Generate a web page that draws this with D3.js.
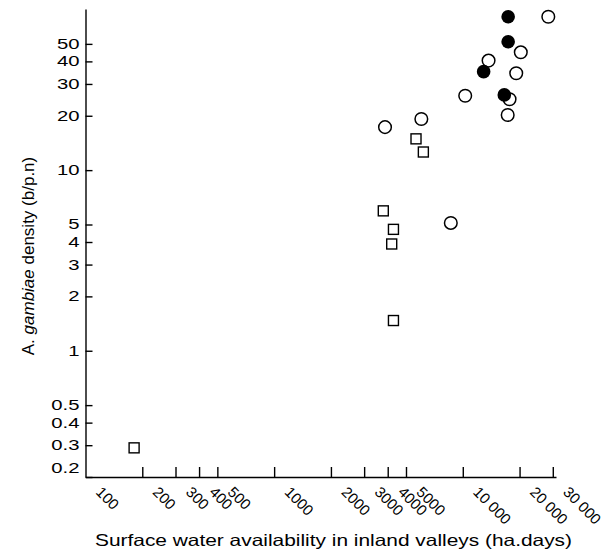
<!DOCTYPE html>
<html>
<head>
<meta charset="utf-8">
<script src="https://cdn.jsdelivr.net/npm/d3@7"></script>
<style>
  body { margin: 0; background: #fff; }
  svg { display: block; font-family: 'Liberation Sans', Arial, Helvetica, sans-serif; }
  .axis path, .axis line { stroke: #000; stroke-width: 1.4px; }
  .axis text { font-size: 14px; fill: #000; }
  .x.axis text { font-size: 15px; }
</style>
</head>
<body>
<div id="chart"></div>
<script>
// Values (both axes are log scales).
// Open squares
const squareWater = [181, 3790, 4290, 4200, 4290, 5650, 6180];
const squareDensity = [0.29, 5.95, 4.7, 3.9, 1.47, 14.9, 12.6];

// Open circles
const openWater = [3870, 6030, 8640, 10300, 13700, 17300, 17700, 19200, 20300, 28400];
const openDensity = [17.3, 19.2, 5.1, 25.8, 40.4, 20.2, 24.7, 34.4, 44.9, 70.7];

// Filled circles
const filledWater = [12900, 16600, 17400, 17400];
const filledDensity = [35.1, 26.1, 51.4, 70.7];

// Tick values and labels
const xTicks = [100, 200, 300, 400, 500, 1000, 2000, 3000, 4000, 5000, 10000, 20000, 30000];
const xTickLabels = ['100', '200', '300', '400', '500', '1000', '2000', '3000', '4000', '5000', '10 000', '20 000', '30 000'];
const yTicks = [0.2, 0.3, 0.4, 0.5, 1, 2, 3, 4, 5, 10, 20, 30, 40, 50];
const yTickLabels = ['0.2', '0.3', '0.4', '0.5', '1', '2', '3', '4', '5', '10', '20', '30', '40', '50'];

const width = 609;
const height = 557;

const svg = d3.select('#chart').append('svg')
  .attr('width', width)
  .attr('height', height);

const x = d3.scaleLog()
  .domain([100, 31200])
  .range([85.5, 556]);

const y = d3.scaleLog()
  .domain([0.2, 78])
  .range([477, 9]);

// x axis: ticks point up into the plot, labels turned 45 degrees
const xAxis = svg.append('g')
  .attr('class', 'x axis')
  .attr('transform', `translate(0,${y.range()[0]})`)
  .call(d3.axisBottom(x)
    .tickValues(xTicks)
    .tickSizeInner(-10)
    .tickSizeOuter(0)
    .tickFormat((d, i) => xTickLabels[i]));

xAxis.selectAll('.tick line')
  .attr('opacity', (d) => (d === 100 ? 0 : 1));

xAxis.selectAll('.tick text')
  .attr('x', 0)
  .attr('y', 0)
  .attr('dy', 0)
  .attr('transform', 'translate(9,16) rotate(45)')
  .style('text-anchor', 'start');

// y axis: ticks point right into the plot
const yAxis = svg.append('g')
  .attr('class', 'y axis')
  .attr('transform', `translate(${x.range()[0]},0)`)
  .call(d3.axisLeft(y)
    .tickValues(yTicks)
    .tickSizeInner(-7)
    .tickSizeOuter(0)
    .tickFormat((d, i) => yTickLabels[i]));

// the labels in the figure are drawn wide; the 0.2 label sits a little above the corner
yAxis.selectAll('.tick text')
  .attr('x', 0)
  .attr('dy', (d) => (d === 0.2 ? '-0.32em' : '0.32em'))
  .attr('transform', 'translate(-6,0) scale(1.45,1)');

const plot = svg.append('g');

// squares
plot.selectAll('rect.square')
  .data(d3.zip(squareWater, squareDensity))
  .join('rect')
  .attr('class', 'square')
  .attr('x', (d) => x(d[0]) - 5)
  .attr('y', (d) => y(d[1]) - 5)
  .attr('width', 10)
  .attr('height', 10)
  .attr('fill', '#fff')
  .attr('stroke', '#000')
  .attr('stroke-width', 1.4);

// open circles first, the filled ones go on top
plot.selectAll('circle.open')
  .data(d3.zip(openWater, openDensity))
  .join('circle')
  .attr('class', 'open')
  .attr('cx', (d) => x(d[0]))
  .attr('cy', (d) => y(d[1]))
  .attr('r', 6.3)
  .attr('fill', '#fff')
  .attr('stroke', '#000')
  .attr('stroke-width', 1.5);

plot.selectAll('circle.filled')
  .data(d3.zip(filledWater, filledDensity))
  .join('circle')
  .attr('class', 'filled')
  .attr('cx', (d) => x(d[0]))
  .attr('cy', (d) => y(d[1]))
  .attr('r', 6.8)
  .attr('fill', '#000');

// axis titles
svg.append('text')
  .attr('x', 95)
  .attr('y', 546)
  .attr('textLength', 477)
  .attr('lengthAdjust', 'spacingAndGlyphs')
  .style('font-size', '16.5px')
  .text('Surface water availability in inland valleys (ha.days)');

const yTitle = svg.append('text')
  .attr('transform', 'translate(34,256) rotate(-90)')
  .attr('text-anchor', 'middle')
  .style('font-size', '17px');
yTitle.append('tspan').text('A. ');
yTitle.append('tspan').style('font-style', 'italic').text('gambiae');
yTitle.append('tspan').text(' density (b/p.n)');
</script>
</body>
</html>
